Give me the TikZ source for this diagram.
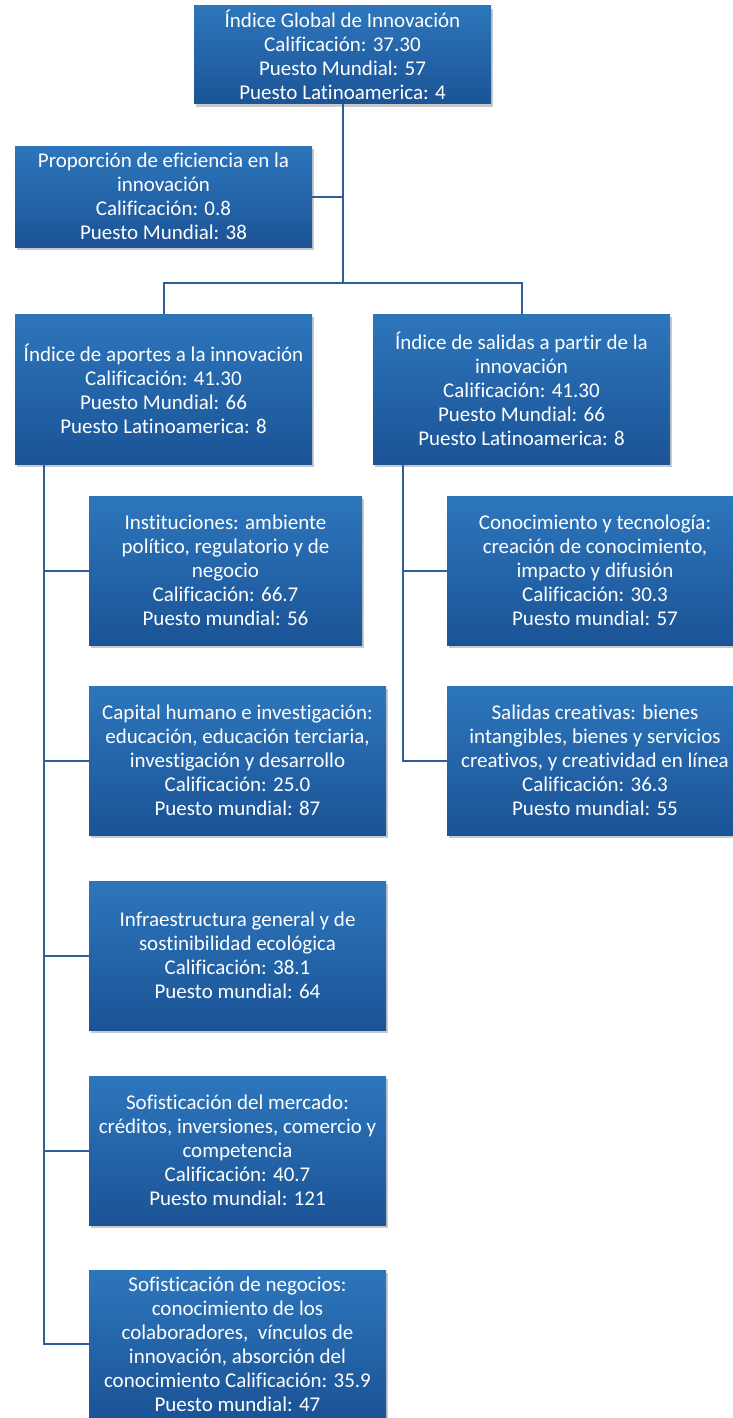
\documentclass[tikz,border=0pt]{standalone}
\usepackage{fontspec}
\setmainfont{Carlito}[Ligatures=NoCommon]
\usetikzlibrary{shadows}
\definecolor{boxtop}{RGB}{45,118,188}
\definecolor{boxbottom}{RGB}{27,83,150}
\definecolor{linkblue}{RGB}{47,94,152}
\begin{document}
\begin{tikzpicture}[x=1pt,y=-1pt]
    \tikzset{
        card/.style={rectangle, inner sep=0pt, align=center, text=white,
            font=\fontsize{21}{24}\selectfont,
            top color=boxtop, bottom color=boxbottom,
            drop shadow={shadow xshift=2pt, shadow yshift=-3pt, opacity=0.3, fill=black!70}},
        wide/.style={card, minimum width=297pt, minimum height=149pt},
        link/.style={draw=linkblue, line width=2pt}
    }
    \useasboundingbox (0,0) rectangle (733,1418);
    \clip (0,0) rectangle (733,1418);
    \node[card, minimum width=297pt, minimum height=98pt] (global) at (342.5,55)
        {Índice Global de Innovación\\Calificación: 37.30\\Puesto Mundial: 57\\Puesto Latinoamerica: 4};
    \node[card, minimum width=297pt, minimum height=101pt] (eficiencia) at (163.5,196.5)
        {Proporción de eficiencia en la\\innovación\\Calificación: 0.8\\Puesto Mundial: 38};
    \node[wide, minimum height=150pt] (aportes) at (163.5,389)
        {Índice de aportes a la innovación\\Calificación: 41.30\\Puesto Mundial: 66\\Puesto Latinoamerica: 8};
    \node[wide, minimum height=150pt] (salidas) at (521.5,389)
        {Índice de salidas a partir de la\\innovación\\Calificación: 41.30\\Puesto Mundial: 66\\Puesto Latinoamerica: 8};
    \node[wide, minimum width=273pt] (instituciones) at (225.5,570.5)
        {Instituciones: ambiente\\político, regulatorio y de\\negocio\\Calificación: 66.7\\Puesto mundial: 56};
    \node[wide] (capital) at (237.5,760.5)
        {Capital humano e investigación:\\educación, educación terciaria,\\investigación y desarrollo\\Calificación: 25.0\\Puesto mundial: 87};
    \node[wide] (infra) at (237.5,955.5)
        {Infraestructura general y de\\sostinibilidad ecológica\\Calificación: 38.1\\Puesto mundial: 64};
    \node[wide] (mercado) at (237.5,1150.5)
        {Sofisticación del mercado:\\créditos, inversiones, comercio y\\competencia\\Calificación: 40.7\\Puesto mundial: 121};
    \node[wide, minimum height=148pt] (negocios) at (237.5,1344)
        {Sofisticación de negocios:\\conocimiento de los\\colaboradores,\ \ vínculos de\\innovación, absorción del\\conocimiento Calificación: 35.9\\Puesto mundial: 47};
    \node[wide, minimum width=296pt] (tecnologia) at (595,570.5)
        {Conocimiento y tecnología:\\creación de conocimiento,\\impacto y difusión\\Calificación: 30.3\\Puesto mundial: 57};
    \node[wide, minimum width=296pt] (creativas) at (595,760.5)
        {Salidas creativas: bienes\\intangibles, bienes y servicios\\creativos, y creatividad en línea\\Calificación: 36.3\\Puesto mundial: 55};
    \coordinate (split) at (342.5,283);
    \coordinate (lspine) at (44,464);
    \coordinate (rspine) at (403,464);
    \draw[link] (global.south) -- (split);
    \draw[link] (eficiencia.east) -- (eficiencia.east -| split);
    \draw[link] (split) -| (aportes.north);
    \draw[link] (split) -| (salidas.north);
    \foreach \n in {instituciones,capital,infra,mercado,negocios}{
        \draw[link] (lspine) |- (\n.west);
    }
    \foreach \n in {tecnologia,creativas}{
        \draw[link] (rspine) |- (\n.west);
    }
\end{tikzpicture}
\end{document}
